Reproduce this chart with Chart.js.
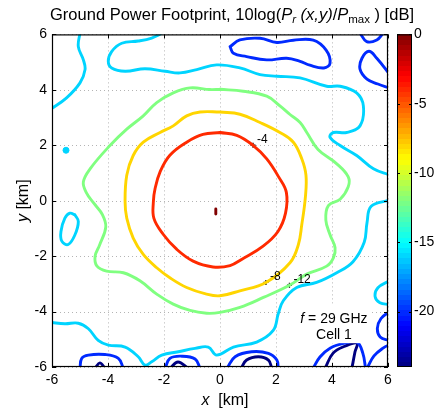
<!DOCTYPE html>
<html>
<head>
<meta charset="utf-8">
<script src="https://cdn.jsdelivr.net/npm/chart.js@4.4.0/dist/chart.umd.min.js"></script>
<style>
  html, body { margin: 0; padding: 0; background: #fff; }
  #wrap { width: 441px; height: 412px; }
</style>
</head>
<body>
<div id="wrap"><canvas id="chart"></canvas></div>
<script>
// Axis ticks and colour range (dB)
const xTicks = [-6, -4, -2, 0, 2, 4, 6];
const yTicks = [-6, -4, -2, 0, 2, 4, 6];
const cbTicks = [0, -5, -10, -15, -20];
const cbMin = -24;
const cbMax = 0;

// Contour lines as [x km, y km]
const c4 = [[0,2.46],[-0.61,2.39],[-1.19,2.11],[-1.79,1.64],[-2.14,1.04],[-2.32,0.43],[-2.38,-0.04],[-2.36,-0.64],[-2.03,-1.21],[-1.55,-1.75],[-0.96,-2.18],[-0.25,-2.39],[0.36,-2.34],[0.8,-2.1],[1.54,-1.64],[2.07,-1.11],[2.34,-0.45],[2.37,0.3],[2.1,0.85],[1.67,1.51],[1.18,2.0],[0.6,2.36],[0,2.46]];

const c8 = [[0,3.2],[-0.71,3.2],[-1.19,3.06],[-1.67,2.7],[-2.14,2.46],[-2.74,2.11],[-3.1,1.63],[-3.33,0.92],[-3.39,-0.04],[-3.33,-0.63],[-3.1,-1.35],[-2.74,-1.94],[-2.26,-2.42],[-1.79,-2.78],[-1.19,-3.13],[-0.48,-3.37],[0,-3.43],[0.71,-3.25],[1.64,-2.95],[2.5,-2.24],[2.8,-1.58],[2.92,-0.87],[3.05,0.14],[3.07,0.92],[2.92,1.51],[2.62,2.11],[2.14,2.46],[1.43,2.82],[0.71,3.12],[0,3.2]];

const c12 = [[0,4.02],[-0.36,4.01],[-1.07,4.07],[-1.67,3.89],[-2.26,3.54],[-2.74,3.06],[-3.33,2.58],[-3.93,1.99],[-4.64,1.15],[-4.88,0.68],[-4.78,0.3],[-4.5,-0.1],[-4.2,-0.5],[-4.08,-0.95],[-4.3,-1.6],[-4.46,-2.0],[-4.4,-2.35],[-4.05,-2.54],[-3.45,-2.6],[-2.86,-2.89],[-2.26,-3.37],[-1.67,-3.73],[-1.07,-3.96],[-0.48,-4.06],[0,-4.03],[0.71,-3.85],[1.55,-3.49],[2.48,-3.05],[3.1,-2.65],[3.81,-2.36],[4.05,-2.06],[4.11,-1.7],[3.93,-1.23],[3.78,-0.7],[3.87,-0.18],[4.29,0.05],[4.58,0.5],[4.58,0.86],[4.17,1.33],[3.5,1.85],[3.1,2.46],[2.86,2.82],[2.5,3.11],[2.14,3.42],[1.67,3.77],[0.83,3.95],[0,4.02]];

const c16a = [[-5.0,6.05],[-5.06,5.56],[-4.88,5.08],[-4.82,4.73],[-5.0,4.25],[-5.48,3.71],[-6.05,3.3]];
const c16b = [[-2.05,6.05],[-2.44,5.87],[-2.92,5.76],[-3.51,5.68],[-3.87,5.38],[-3.99,5.03],[-3.87,4.79],[-3.39,4.67],[-2.68,4.76],[-1.96,4.67],[-1.43,4.61],[-0.83,4.73],[-0.12,4.9],[0.71,4.79],[1.43,4.55],[2.03,4.49],[2.86,4.43],[3.81,4.13],[4.29,4.13],[4.88,3.89],[5.12,3.42],[5.0,2.7],[4.52,2.46],[4.05,2.46],[3.93,2.29],[4.29,1.99],[4.88,1.63],[5.48,1.15],[6.05,0.93]];
const c16c = [[-5.18,-0.51],[-5.06,-0.75],[-5.18,-1.23],[-5.42,-1.58],[-5.65,-1.46],[-5.68,-1.11],[-5.54,-0.63],[-5.36,-0.45],[-5.18,-0.51]];
const c16d = [[-5.5,1.82]];
const c16e = [[-6.05,-4.39],[-5.54,-4.44],[-5.06,-4.42],[-4.7,-4.62],[-4.35,-5.04],[-3.99,-5.21],[-3.39,-5.28],[-2.92,-5.63],[-2.68,-5.93],[-2.44,-5.81],[-2.08,-5.57],[-1.49,-5.45],[-0.89,-5.33],[-0.42,-5.28],[-0.12,-5.57],[0.48,-5.28],[1.31,-5.1],[1.9,-4.68],[2.08,-4.08],[2.26,-3.61],[2.74,-3.13],[3.45,-2.95],[4.17,-2.6],[4.75,-2.2],[5.15,-1.5],[5.25,-0.8],[5.4,-0.2],[6.05,0.02]];
const c16f = [[6.05,-2.89],[5.64,-3.14],[5.54,-3.46],[5.71,-3.68],[6.05,-3.75]];

const c20a = [[0.36,5.56],[0.71,5.8],[1.43,5.86],[2.03,5.71],[2.62,5.79],[3.33,5.79],[3.79,5.43],[3.93,4.96],[3.71,4.79],[3.21,4.89],[2.86,5.03],[2.38,5.14],[1.67,5.08],[0.95,5.2],[0.48,5.32],[0.36,5.56]];
const c20b = [[5.0,6.05],[5.24,5.74],[5.6,5.8],[5.83,6.05]];
const c20c = [[6.05,4.57],[5.6,5.14],[5.32,5.39],[5.07,5.14],[5.0,4.75],[5.25,4.39],[5.64,4.21],[6.05,4.07]];
const c20d = [[-5.0,-6.05],[-4.94,-5.69],[-4.7,-5.57],[-4.11,-5.55],[-3.63,-5.69],[-3.45,-6.05]];
const c20e = [[-1.96,-6.05],[-1.79,-5.69],[-1.37,-5.61],[-0.89,-5.71],[-0.71,-6.05]];
const c20f = [[0.25,-6.05],[0.54,-5.63],[1.13,-5.45],[1.73,-5.51],[2.03,-5.75],[2.08,-6.05]];
const c20g = [[3.32,-6.05],[3.57,-5.64],[3.93,-5.32],[4.46,-5.14],[4.89,-5.1],[5.1,-5.5],[5.2,-6.05]];
const c20h = [[6.05,-4.0],[5.75,-4.25],[5.62,-4.6],[5.72,-4.92],[6.05,-5.05]];
const c20i = [[5.25,-6.05],[5.5,-5.6],[5.85,-5.3],[6.05,-5.2]];

const c24a = [[-4.46,-6.05],[-4.29,-5.85],[-4.11,-6.05]];
const c24b = [[-1.79,-6.05],[-1.5,-5.82],[-1.14,-6.05]];
const c24c = [[0.75,-6.05],[0.95,-5.75],[1.37,-5.63],[1.73,-5.75],[1.85,-6.05]];
const c24d = [[3.75,-6.05],[4.04,-5.5],[4.46,-5.25],[4.89,-5.14],[4.82,-5.46],[4.71,-6.05]];

const peak = [[-0.15,-0.3],[-0.15,-0.48]];

// Contour labels
const labelPoints = [[1.18,2.0],[1.64,-2.95],[2.48,-3.05]];
const labelTexts = ['-4', '-8', '-12'];

const contours = [
  { level: -4, lines: [c4] },
  { level: -8, lines: [c8] },
  { level: -12, lines: [c12] },
  { level: -16, lines: [c16a, c16b, c16c, c16e, c16f] },
  { level: -20, lines: [c20a, c20b, c20c, c20d, c20e, c20f, c20g, c20h, c20i] },
  { level: -24, lines: [c24a, c24b, c24c, c24d] },
  { level: 0, lines: [peak] }
];

const FONT = '"Liberation Sans", Arial, Helvetica, sans-serif';

// MATLAB jet colormap
function jet(t) {
  const c = v => Math.round(255 * Math.min(1, Math.max(0, v)));
  const r = c(Math.min(4 * t - 1.5, -4 * t + 4.5));
  const g = c(Math.min(4 * t - 0.5, -4 * t + 3.5));
  const b = c(Math.min(4 * t + 0.5, -4 * t + 2.5));
  return `rgb(${r},${g},${b})`;
}
const levelColor = lv => jet((lv - cbMin) / (cbMax - cbMin));
const toPts = arr => arr.map(([x, y]) => ({ x, y }));

const datasets = [];
contours.forEach(c => {
  c.lines.forEach(line => {
    datasets.push({
      data: toPts(line),
      showLine: true,
      borderColor: levelColor(c.level),
      borderWidth: 2.9,
      tension: 0.4,
      pointRadius: 0,
      borderCapStyle: 'round',
      borderJoinStyle: 'round',
      clip: 0
    });
  });
});
datasets.push({
  data: toPts(c16d),
  showLine: false,
  pointRadius: 3,
  pointBackgroundColor: levelColor(-16),
  pointBorderColor: levelColor(-16),
  clip: 0
});
datasets.push({
  data: toPts(labelPoints),
  showLine: false,
  pointStyle: 'cross',
  pointRadius: 2.5,
  pointBorderColor: '#000',
  pointBorderWidth: 1.3
});

function richText(ctx, parts, cx, y) {
  let w = 0;
  parts.forEach(p => { ctx.font = p.font; p.w = ctx.measureText(p.t).width; w += p.w; });
  let x = cx - w / 2;
  ctx.textAlign = 'left';
  ctx.textBaseline = 'alphabetic';
  parts.forEach(p => { ctx.font = p.font; ctx.fillText(p.t, x, y + (p.dy || 0)); x += p.w; });
}

const decorations = {
  id: 'decorations',
  beforeDatasetsDraw(chart) {
    const { ctx, chartArea: a, scales: { x, y } } = chart;
    ctx.save();
    ctx.strokeStyle = '#b4b4b4';
    ctx.lineWidth = 1;
    ctx.setLineDash([1, 3]);
    xTicks.forEach(v => {
      const px = Math.round(x.getPixelForValue(v)) + 0.5;
      ctx.beginPath(); ctx.moveTo(px, a.top); ctx.lineTo(px, a.bottom); ctx.stroke();
    });
    yTicks.forEach(v => {
      const py = Math.round(y.getPixelForValue(v)) + 0.5;
      ctx.beginPath(); ctx.moveTo(a.left, py); ctx.lineTo(a.right, py); ctx.stroke();
    });
    ctx.restore();
  },
  afterDatasetsDraw(chart) {
    const { ctx, chartArea: a, scales: { x, y, cb } } = chart;
    ctx.save();
    ctx.fillStyle = '#000';

    // contour labels
    ctx.font = `12px ${FONT}`;
    ctx.textAlign = 'left';
    ctx.textBaseline = 'middle';
    labelPoints.forEach(([vx, vy], i) => {
      ctx.fillText(labelTexts[i], x.getPixelForValue(vx) + 4, y.getPixelForValue(vy) - 6);
    });

    // annotation box
    const bx0 = x.getPixelForValue(2.5), bx1 = x.getPixelForValue(5.43);
    const by0 = y.getPixelForValue(-3.72), by1 = y.getPixelForValue(-5.14);
    ctx.fillStyle = '#fff';
    ctx.fillRect(bx0, by0, bx1 - bx0, by1 - by0);
    ctx.fillStyle = '#000';
    const bcx = x.getPixelForValue(4.07);
    richText(ctx, [
      { t: 'f', font: `italic 14px ${FONT}` },
      { t: ' = 29 GHz', font: `14px ${FONT}` }
    ], bcx, y.getPixelForValue(-4.4));
    richText(ctx, [{ t: 'Cell 1', font: `14px ${FONT}` }], bcx, y.getPixelForValue(-5.0));

    // frame and inward ticks
    ctx.strokeStyle = '#000';
    ctx.lineWidth = 1.2;
    ctx.strokeRect(a.left + 0.5, a.top + 0.5, a.right - a.left - 1, a.bottom - a.top - 1);
    ctx.lineWidth = 1;
    ctx.beginPath();
    xTicks.forEach(v => {
      const px = Math.round(x.getPixelForValue(v)) + 0.5;
      ctx.moveTo(px, a.bottom); ctx.lineTo(px, a.bottom - 4);
      ctx.moveTo(px, a.top); ctx.lineTo(px, a.top + 4);
    });
    yTicks.forEach(v => {
      const py = Math.round(y.getPixelForValue(v)) + 0.5;
      ctx.moveTo(a.left, py); ctx.lineTo(a.left + 4, py);
      ctx.moveTo(a.right, py); ctx.lineTo(a.right - 4, py);
    });
    ctx.stroke();

    // colour bar
    const cx0 = cb.left + 9, cw = 15;
    const ctop = cb.getPixelForValue(cbMax), cbot = cb.getPixelForValue(cbMin);
    const n = 64;
    for (let i = 0; i < n; i++) {
      const yA = cbot - (cbot - ctop) * i / n;
      const yB = cbot - (cbot - ctop) * (i + 1) / n;
      ctx.fillStyle = jet((i + 0.5) / n);
      ctx.fillRect(cx0, Math.floor(yB), cw, Math.ceil(yA) - Math.floor(yB));
    }
    ctx.strokeRect(cx0 + 0.5, ctop + 0.5, cw - 1, cbot - ctop - 1);
    ctx.beginPath();
    cbTicks.forEach(v => {
      const py = Math.round(cb.getPixelForValue(v)) + 0.5;
      ctx.moveTo(cx0, py); ctx.lineTo(cx0 + 3, py);
      ctx.moveTo(cx0 + cw, py); ctx.lineTo(cx0 + cw - 3, py);
    });
    ctx.stroke();

    // title
    ctx.fillStyle = '#000';
    richText(ctx, [
      { t: 'Ground Power Footprint, 10log(', font: `16.5px ${FONT}` },
      { t: 'P', font: `italic 16.5px ${FONT}` },
      { t: 'r', font: `italic 11.5px ${FONT}`, dy: 3 },
      { t: ' (x,y)', font: `italic 16.5px ${FONT}` },
      { t: '/', font: `16.5px ${FONT}` },
      { t: 'P', font: `italic 16.5px ${FONT}` },
      { t: 'max', font: `11.5px ${FONT}`, dy: 3 },
      { t: ' ) [dB]', font: `16.5px ${FONT}` }
    ], 232, 20);

    // axis titles
    richText(ctx, [
      { t: 'x', font: `italic 16px ${FONT}` },
      { t: '  [km]', font: `16px ${FONT}` }
    ], (a.left + a.right) / 2 + 5, 405);
    ctx.save();
    ctx.translate(28, (a.top + a.bottom) / 2);
    ctx.rotate(-Math.PI / 2);
    richText(ctx, [
      { t: 'y', font: `italic 16px ${FONT}` },
      { t: ' [km]', font: `16px ${FONT}` }
    ], 0, 0);
    ctx.restore();

    ctx.restore();
  }
};

const tickFont = { family: FONT, size: 14 };

new Chart(document.getElementById('chart'), {
  type: 'scatter',
  data: { datasets },
  options: {
    responsive: true,
    maintainAspectRatio: false,
    devicePixelRatio: 1,
    animation: false,
    layout: { padding: { top: 31, left: 0, right: 0, bottom: 0 } },
    plugins: { legend: { display: false }, tooltip: { enabled: false } },
    scales: {
      x: {
        type: 'linear', min: -6, max: 6,
        grid: { display: false, drawTicks: false },
        border: { display: false },
        afterBuildTicks: s => { s.ticks = xTicks.map(v => ({ value: v })); },
        afterFit: s => { s.height = 45; },
        ticks: { font: tickFont, color: '#000', padding: 5, maxRotation: 0 }
      },
      y: {
        type: 'linear', min: -6, max: 6,
        grid: { display: false, drawTicks: false },
        border: { display: false },
        afterBuildTicks: s => { s.ticks = yTicks.map(v => ({ value: v })); },
        afterFit: s => { s.width = 52; },
        ticks: { font: tickFont, color: '#000', padding: 5 }
      },
      cb: {
        type: 'linear', position: 'right', min: cbMin, max: cbMax,
        grid: { display: false, drawTicks: false },
        border: { display: false },
        afterBuildTicks: s => { s.ticks = cbTicks.map(v => ({ value: v })); },
        afterFit: s => { s.width = 53; },
        ticks: { font: tickFont, color: '#000', padding: 26 }
      }
    }
  },
  plugins: [decorations]
});
</script>
</body>
</html>
